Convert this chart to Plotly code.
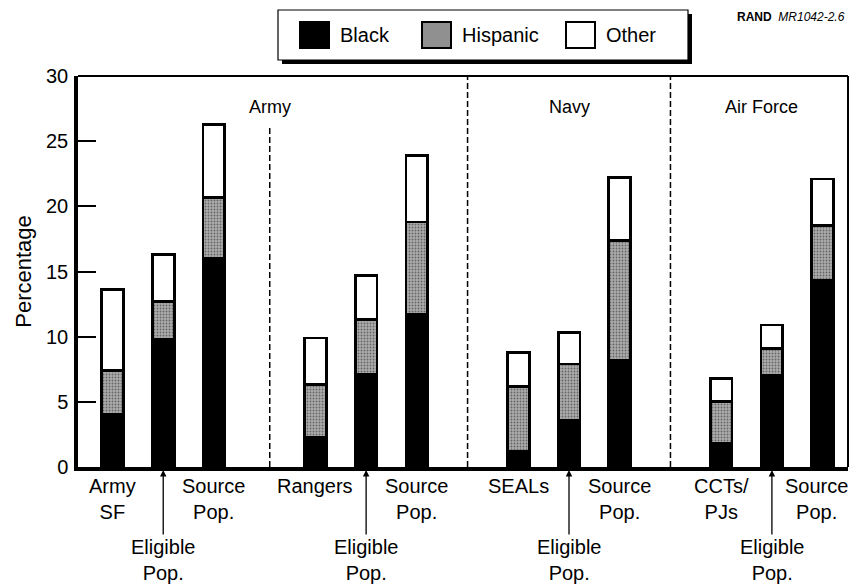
import plotly.graph_objects as go

# ---------------- data ----------------
series_names = ["Black", "Hispanic", "Other"]
bar_labels = ["Army<br>SF", "Eligible<br>Pop.", "Source<br>Pop.",
              "Rangers", "Eligible<br>Pop.", "Source<br>Pop.",
              "SEALs", "Eligible<br>Pop.", "Source<br>Pop.",
              "CCTs/<br>PJs", "Eligible<br>Pop.", "Source<br>Pop."]
is_eligible = [False, True, False, False, True, False,
               False, True, False, False, True, False]
black = [4.0, 9.8, 16.0, 2.3, 7.1, 11.7, 1.2, 3.6, 8.2, 1.8, 7.0, 14.3]
hispanic = [3.4, 2.9, 4.7, 4.0, 4.2, 7.1, 5.0, 4.3, 9.2, 3.2, 2.1, 4.2]
other = [6.2, 3.6, 5.6, 3.6, 3.4, 5.1, 2.6, 2.4, 4.8, 1.8, 1.8, 3.6]
service_labels = ["Army", "Navy", "Air Force"]
y_ticks = [0, 5, 10, 15, 20, 25, 30]

# ---------------- layout helpers ----------------
# the html body has an 8px margin, so the figure is 8px smaller than the window
OFF = 8
PAGE_W, PAGE_H = 858, 584
W, H = PAGE_W - OFF, PAGE_H - OFF
PLOT_L, PLOT_R, PLOT_T, PLOT_B = 78, 848, 76, 467   # page pixels
L, R, T, B = PLOT_L - OFF, PAGE_W - PLOT_R, PLOT_T - OFF, PAGE_H - PLOT_B
PW, PH = PLOT_R - PLOT_L, PLOT_B - PLOT_T
FONT = "Liberation Sans, Arial, Helvetica, sans-serif"


def px_x(px):
    return (px - PLOT_L) / PW


def px_y(py):
    return (PLOT_B - py) / PH


# bar positions: groups of three with a one-slot gap between groups
xpos = [i + i // 3 for i in range(len(black))]

fig = go.Figure()
fig.add_trace(go.Bar(x=xpos, y=black, name=series_names[0], width=0.43,
                     marker=dict(color="black", line=dict(color="black", width=2.8))))
fig.add_trace(go.Bar(x=xpos, y=hispanic, name=series_names[1], width=0.43,
                     marker=dict(color="#a8a8a8", line=dict(color="black", width=2.8),
                                 pattern=dict(shape=".", fgcolor="#1e1e1e", bgcolor="#acacac",
                                              size=3, solidity=0.3))))
fig.add_trace(go.Bar(x=xpos, y=other, name=series_names[2], width=0.43,
                     marker=dict(color="white", line=dict(color="black", width=2.8))))

shapes = []
annotations = []

# frame top/right lines
shapes.append(dict(type="line", xref="paper", yref="paper", x0=0, x1=1, y0=1, y1=1,
                   line=dict(color="black", width=2)))
shapes.append(dict(type="line", xref="paper", yref="paper", x0=1, x1=1, y0=0, y1=1,
                   line=dict(color="black", width=2)))

# dashed separators
shapes.append(dict(type="line", xref="x", yref="paper", x0=3.1, x1=3.1, y0=0, y1=px_y(128),
                   line=dict(color="black", width=1.5, dash="6px,3px")))
for xs in (7, 11):
    shapes.append(dict(type="line", xref="x", yref="paper", x0=xs, x1=xs, y0=0, y1=1,
                       line=dict(color="black", width=1.5, dash="6px,3px")))

# service labels
for name, xc in zip(service_labels, (3.1, 9.0, 12.8)):
    annotations.append(dict(text=name, x=xc, y=px_y(107), xref="x", yref="paper",
                            xanchor="center", yanchor="middle",
                            showarrow=False, font=dict(size=18, family=FONT, color="black")))

# x category labels
n_bars = len(bar_labels)
for k, (xp, lab, elig) in enumerate(zip(xpos, bar_labels, is_eligible)):
    if elig:
        annotations.append(dict(text=lab, x=xp, y=0, xref="x", yref="paper",
                                yshift=-3, showarrow=True, arrowhead=2, arrowsize=1,
                                arrowwidth=1.3, arrowcolor="black", ax=0, ay=90,
                                align="center",
                                font=dict(size=20, family=FONT, color="black")))
    else:
        annotations.append(dict(text=lab, x=xp, y=0, xref="x", yref="paper",
                                yanchor="top", yshift=-6, showarrow=False, align="center",
                                xshift=-6 if k == n_bars - 1 else 0,
                                font=dict(size=20, family=FONT, color="black")))

# manual legend
shapes.append(dict(type="rect", xref="paper", yref="paper",
                   x0=px_x(282), x1=px_x(692), y0=px_y(64), y1=px_y(14),
                   fillcolor="black", line=dict(width=0)))
shapes.append(dict(type="rect", xref="paper", yref="paper",
                   x0=px_x(278), x1=px_x(688), y0=px_y(60), y1=px_y(10),
                   fillcolor="white", line=dict(color="black", width=1.2)))
swatch_left = [300, 422, 566]
swatch_fill = ["black", "#909090", "white"]
for name, sx, fc in zip(series_names, swatch_left, swatch_fill):
    shapes.append(dict(type="rect", xref="paper", yref="paper",
                       x0=px_x(sx), x1=px_x(sx + 29), y0=px_y(48), y1=px_y(22),
                       fillcolor=fc, line=dict(color="black", width=2)))
    annotations.append(dict(text=name, x=px_x(sx + 38), y=px_y(35), xref="paper", yref="paper",
                            xanchor="left", yanchor="middle", showarrow=False,
                            font=dict(size=20, family=FONT, color="black")))

# figure id
annotations.append(dict(text="<b>RAND</b>  <i>MR1042-2.6</i>", x=px_x(847), y=px_y(17),
                        xref="paper", yref="paper", xanchor="right", yanchor="middle",
                        showarrow=False, font=dict(size=12, family=FONT, color="black")))

fig.update_layout(
    width=W, height=H,
    margin=dict(l=L, r=R, t=T, b=B, pad=0, autoexpand=False),
    barmode="stack",
    showlegend=False,
    plot_bgcolor="white", paper_bgcolor="white",
    font=dict(family=FONT, color="black"),
    shapes=shapes,
    annotations=annotations,
    xaxis=dict(range=[-0.68, 14.5], showticklabels=False, ticks="", showgrid=False,
               zeroline=False, showline=True, linecolor="black", linewidth=3.5,
               automargin=False),
    yaxis=dict(range=[0, 30], tickvals=y_ticks, ticks="inside", ticklen=18, tickwidth=1.5,
               tickcolor="black", showgrid=False, zeroline=False, showline=True,
               linecolor="black", linewidth=3.5, ticklabelstandoff=2, automargin=False,
               tickfont=dict(size=20, family=FONT, color="black"),
               title=dict(text="Percentage", standoff=9,
                          font=dict(size=22, family=FONT, color="black"))),
)

fig.write_html("out.html")
